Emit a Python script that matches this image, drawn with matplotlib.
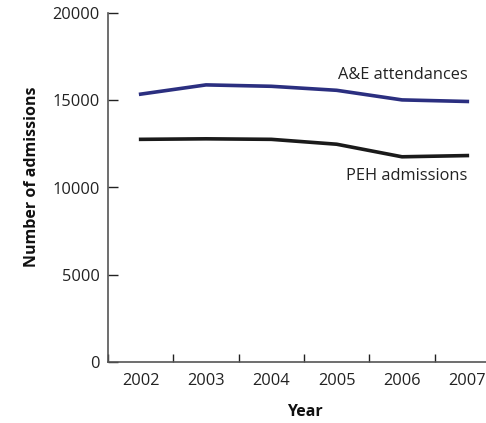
import matplotlib
matplotlib.use("Agg")
import matplotlib.pyplot as plt
import numpy as np

years = ["2002", "2003", "2004", "2005", "2006", "2007"]
ae_attendances = [15350, 15880, 15800, 15570, 15020, 14930]
peh_admissions = [12760, 12790, 12760, 12480, 11760, 11830]
y_ticks = [0, 5000, 10000, 15000, 20000]

plt.rcParams["font.family"] = ["Open Sans", "DejaVu Sans"]

fig = plt.figure(figsize=(4.86, 4.23), dpi=100)
ax = fig.add_axes([108 / 486, 61 / 423, 392 / 486, 349 / 423])

x = np.arange(len(years))
ax.plot(x, ae_attendances, color="#2b2f80", lw=2.6, solid_joinstyle="miter")
ax.plot(x, peh_admissions, color="#1a1a1a", lw=2.6, solid_joinstyle="miter")

ax.set_xlim(-0.5, len(years) - 0.5)
ax.set_ylim(0, 20000)

# category boundaries carry the tick marks, labels sit at the centres
ax.set_xticks(np.arange(-0.5, len(years) + 0.5, 1.0))
ax.set_xticklabels([])
ax.set_xticks(x, minor=True)
ax.set_xticklabels(years, minor=True)
ax.tick_params(axis="x", which="major", direction="in", length=6, width=1, color="#222222")
ax.tick_params(axis="x", which="minor", length=0, pad=8, labelsize=11.8, labelcolor="#222222")

ax.set_yticks(y_ticks)
ax.set_yticklabels([str(v) for v in y_ticks])
ax.tick_params(axis="y", direction="in", length=7, width=1, color="#222222", pad=6,
               labelsize=11.8, labelcolor="#222222")

for side in ("top", "right"):
    ax.spines[side].set_visible(False)
for side in ("left", "bottom"):
    ax.spines[side].set_color("#555555")
    ax.spines[side].set_linewidth(1.2)

ax.text(5.0, 16450, "A&E attendances", ha="right", va="center", fontsize=11.8, color="#222222")
ax.text(5.0, 10660, "PEH admissions", ha="right", va="center", fontsize=11.8, color="#222222")

ax.set_xlabel("Year", fontsize=11.5, fontweight="bold", color="#111111")
ax.xaxis.set_label_coords(197 / 392, -42 / 349)
ax.set_ylabel("Number of admissions", fontsize=11.5, fontweight="bold", color="#111111")
ax.yaxis.set_label_coords(-68 / 392, 185.5 / 349)

fig.savefig("out.png", dpi=100)
